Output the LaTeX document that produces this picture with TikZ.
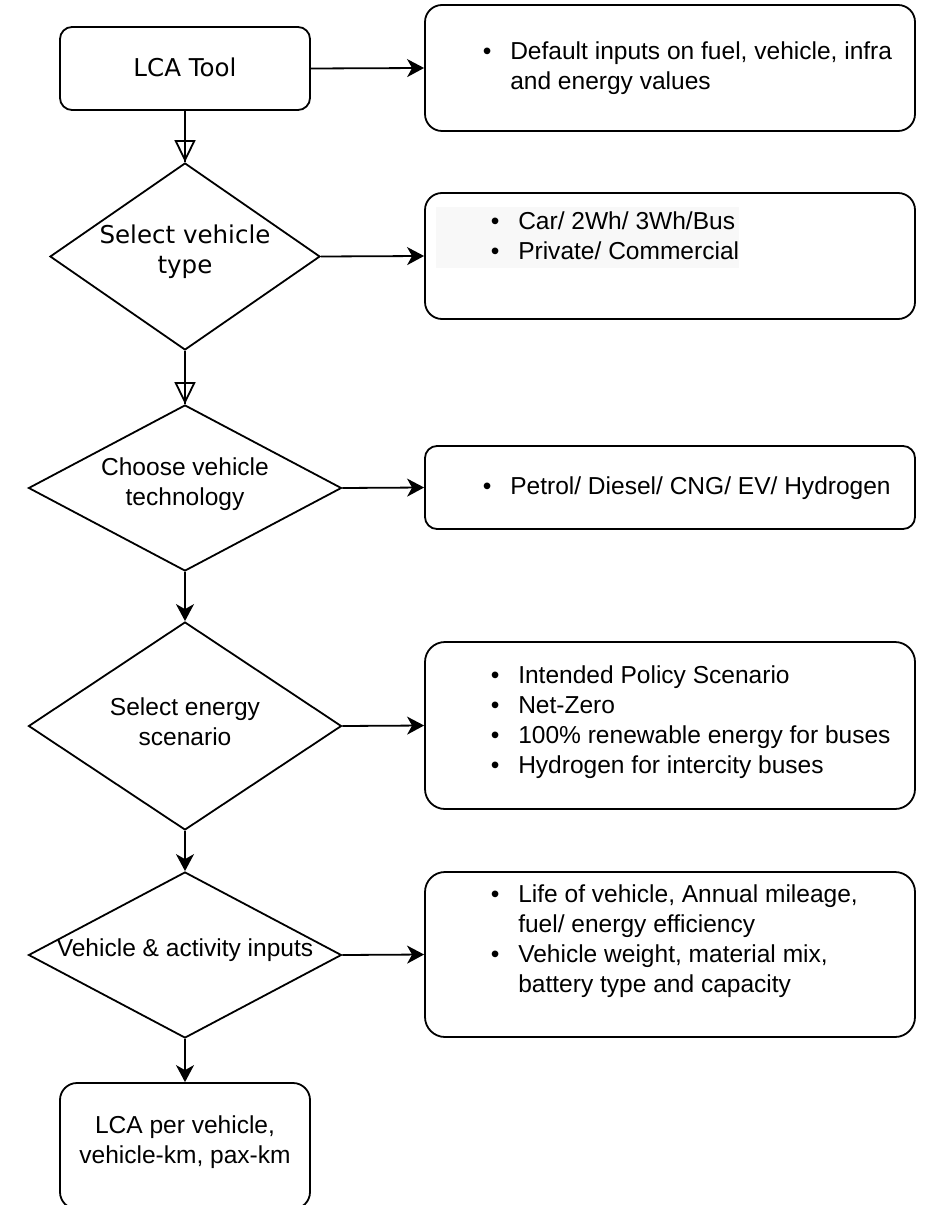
\documentclass[tikz,border=0pt]{standalone}
\usepackage{fontspec}
\setmainfont{Liberation Sans}
\newfontfamily\dejavu{DejaVu Sans}
\usetikzlibrary{shapes.geometric,arrows.meta}
\newdimen\px \px=0.75pt
\newcommand\bitem{\llap{\makebox[0pt]{•}\hspace{23\px}}}
\definecolor{hl}{HTML}{F8F8F8}
\tikzset{
  box/.style={draw, line width=1.8\px, inner sep=0pt},
  dia/.style={draw, diamond, line width=1.8\px, inner sep=0pt},
  txt/.style={font=\fontsize{18.4}{22.5}\selectfont, inner sep=0pt, align=center},
  btxt/.style={font=\fontsize{18.4}{22.5}\selectfont, inner sep=0pt, align=left, anchor=west},
  arr/.style={-{Stealth[length=12.75pt,width=13.5pt,inset=3.75pt]}, line width=1.8\px},
  oarr/.style={-{Triangle[open,length=16.5pt,width=15.75pt]}, line width=1.8\px},
  thru/.style={line width=1.8\px}
}
\begin{document}
\begin{tikzpicture}[x=0.75pt,y=-0.75pt]
\useasboundingbox (0,0) rectangle (933,1205);
% left column
\node[box, rounded corners=9pt, minimum width=250\px, minimum height=83\px] (lca) at (185,68.5) {};
\node[dia, minimum width=270\px, minimum height=187\px] (d1) at (185,256.5) {};
\node[dia, minimum width=313\px, minimum height=166\px] (d2) at (185,488) {};
\node[dia, minimum width=313\px, minimum height=208\px] (d3) at (185,726) {};
\node[dia, minimum width=313\px, minimum height=166\px] (d4) at (185,955) {};
\node[box, rounded corners=12.75pt, minimum width=250\px, minimum height=126\px] (out) at (185,1146) {};
% right column
\node[box, rounded corners=12.75pt, minimum width=490\px, minimum height=126\px] (b1) at (670,68) {};
\node[box, rounded corners=12.75pt, minimum width=490\px, minimum height=126\px] (b2) at (670,256) {};
\node[box, rounded corners=9pt, minimum width=490\px, minimum height=83\px] (b3) at (670,487.5) {};
\node[box, rounded corners=15pt, minimum width=490\px, minimum height=167\px] (b4) at (670,725.5) {};
\node[box, rounded corners=15pt, minimum width=490\px, minimum height=165\px] (b5) at (670,954.5) {};
% texts
\node[txt, font=\dejavu\fontsize{18.4}{22.5}\selectfont] (tlca) at (185,67) {LCA Tool};
\node[txt, font=\dejavu\fontsize{18.4}{22.5}\selectfont] (td1) at (185,252) {Select vehicle\\type};
\node[txt] (td2) at (185,484) {Choose vehicle\\technology};
\node[txt] (td3) at (185,722) {Select energy\\scenario};
\node[txt] (td4) at (185,950) {Vehicle \& activity inputs};
\node[txt] (tout) at (185,1142) {LCA per vehicle,\\vehicle-km, pax-km};
\fill[hl] (436,207) rectangle (739,268);
\node[btxt] (tb1) at (510,68) {\bitem Default inputs on fuel, vehicle, infra\\and energy values};
\node[btxt] (tb2) at (518,236) {\bitem Car/ 2Wh/ 3Wh/Bus\\\bitem Private/ Commercial};
\node[btxt] (tb3) at (510,488) {\bitem Petrol/ Diesel/ CNG/ EV/ Hydrogen};
\node[btxt] (tb4) at (518,722) {\bitem Intended Policy Scenario\\\bitem Net-Zero\\\bitem 100\% renewable energy for buses\\\bitem Hydrogen for intercity buses};
\node[btxt] (tb5) at (518,941) {\bitem Life of vehicle, Annual mileage,\\fuel/ energy efficiency\\\bitem Vehicle weight, material mix,\\battery type and capacity};
% connectors
\draw[arr] (lca.east) -- (b1.west);
\draw[arr] (d1.east) -- (b2.west);
\draw[arr] (d2.east) -- (b3.west);
\draw[arr] (d3.east) -- (b4.west);
\draw[arr] (d4.east) -- (b5.west);
\draw[oarr] (lca.south) -- (d1.north);
\draw[thru] (lca.south) -- (d1.north);
\draw[oarr] (d1.south) -- (d2.north);
\draw[thru] (d1.south) -- (d2.north);
\draw[arr] (d2.south) -- (d3.north);
\draw[arr] (d3.south) -- (d4.north);
\draw[arr] (d4.south) -- (out.north);
\end{tikzpicture}
\end{document}
